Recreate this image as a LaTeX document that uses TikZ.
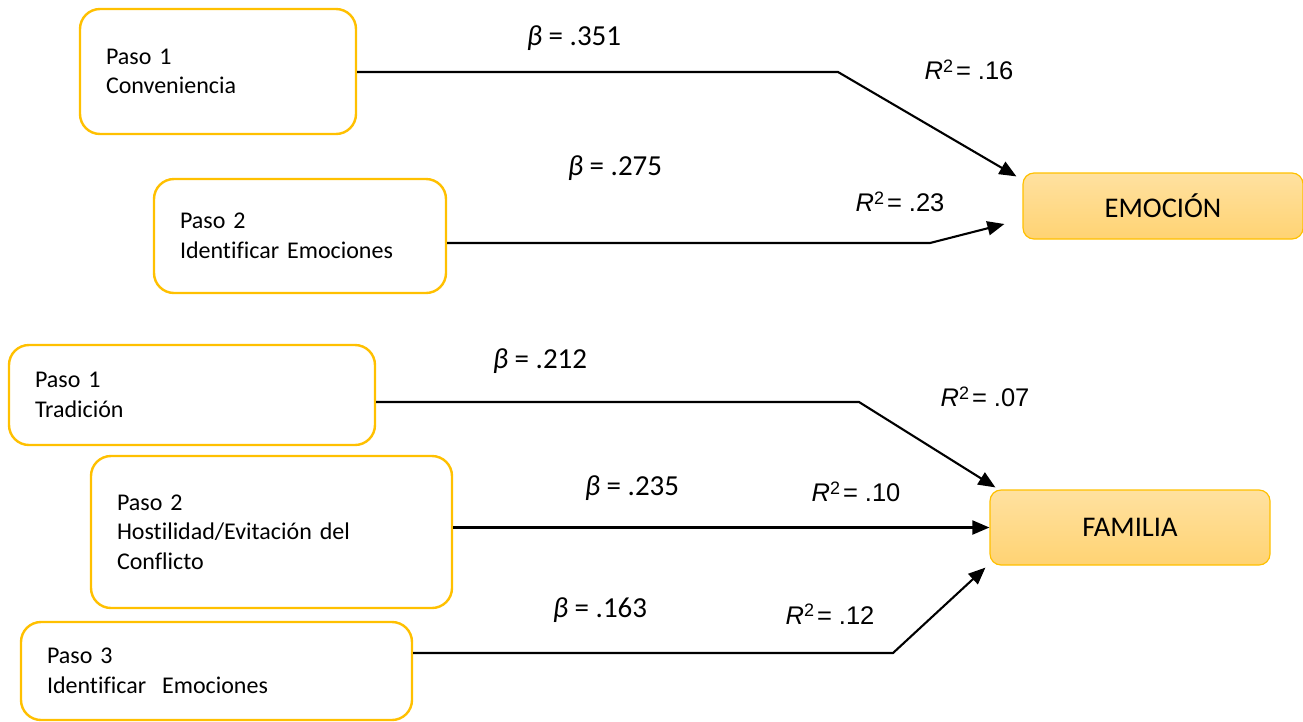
\documentclass[tikz,border=0pt]{standalone}
\usepackage{fontspec}
\newfontfamily\calfont[Ligatures=NoCommon]{Carlito}
\newfontfamily\arialfont{Liberation Sans}
\usetikzlibrary{arrows.meta,calc}
\definecolor{boxorange}{HTML}{FFC000}
\definecolor{filltop}{RGB}{255,225,160}
\definecolor{fillbottom}{RGB}{255,211,115}

\tikzset{
  stepbox/.style={draw=boxorange, line width=2.4pt, rounded corners=20pt,
    fill=white, align=left, inner xsep=26pt, inner ysep=0pt,
    font=\calfont\fontsize{24}{29.5}\selectfont},
  outcome/.style={draw=boxorange, line width=1.2pt, rounded corners=11pt,
    top color=filltop, bottom color=fillbottom,
    minimum width=280pt, align=center,
    font=\calfont\fontsize{28.5}{28.5}\selectfont},
  conn/.style={draw=black, line width=2.1pt,
    -{Triangle[length=17pt,width=14pt]}},
  betalabel/.style={font=\calfont\fontsize{29}{29}\selectfont, inner sep=0pt},
  rsqlabel/.style={font=\arialfont\fontsize{25.5}{25.5}\selectfont, inner sep=0pt},
}
\newcommand{\betaval}[1]{{\itshape β} = #1}
\newcommand{\rsqval}[1]{{\itshape R}\raisebox{0.3em}{\fontsize{18}{18}\selectfont 2}\hspace{3pt}= #1}

\begin{document}
\begin{tikzpicture}[x=1pt, y=-1pt]
\useasboundingbox (0,0) rectangle (1303,721);

% predictor steps
\node[stepbox, text width=224pt, minimum height=125pt] (b1) at (218,71.5)
  {Paso 1\\Conveniencia};
\node[stepbox, text width=240pt, minimum height=114pt] (b2) at (300,236)
  {Paso 2\\Identificar Emociones};
\node[stepbox, text width=314pt, minimum height=100pt] (b3) at (192,395)
  {Paso 1\\Tradición};
\node[stepbox, text width=309pt, minimum height=152pt] (b4) at (271.5,532)
  {Paso 2\\Hostilidad/Evitación del\\Conflicto};
\node[stepbox, text width=339pt, minimum height=98pt] (b5) at (216.5,671)
  {Paso 3\\Identificar\ \ Emociones};

% outcomes
\node[outcome, minimum height=66pt] (emo) at (1163,206) {EMOCIÓN};
\node[outcome, minimum height=75pt] (fam) at (1130,527.5) {FAMILIA};

% bends and arrow ends
\coordinate (k1) at (838,72);
\coordinate (k2) at (930,243);
\coordinate (k3) at (859,402);
\coordinate (k5) at (893,653);
\coordinate (t1) at ($(emo.north west)+(-6,4)$);
\coordinate (t2) at ($(emo.west)+(-18,18)$);
\coordinate (t3) at ($(fam.north west)+(6,-2)$);
\coordinate (t5) at ($(fam.south west)+(-4,2)$);

% paths
\draw[conn] (b1.east |- k1) -- (k1) -- (t1);
\draw[conn] (b2.east |- k2) -- (k2) -- (t2);
\draw[conn] (b3.east |- k3) -- (k3) -- (t3);
\draw[conn] (b4.east |- fam.west) -- (fam.west);
\draw[conn] (b5.east |- k5) -- (k5) -- (t5);

% coefficients
\node[betalabel] (be1) at (574,38)  {\betaval{.351}};
\node[betalabel] (be2) at (615,168) {\betaval{.275}};
\node[betalabel] (be3) at (540,361) {\betaval{.212}};
\node[betalabel] (be4) at (632,488) {\betaval{.235}};
\node[betalabel] (be5) at (600,610) {\betaval{.163}};

\node[rsqlabel] (r1) at (969,70)  {\rsqval{.16}};
\node[rsqlabel] (r2) at (900,202) {\rsqval{.23}};
\node[rsqlabel] (r3) at (985,397) {\rsqval{.07}};
\node[rsqlabel] (r4) at (856,492) {\rsqval{.10}};
\node[rsqlabel] (r5) at (830,614) {\rsqval{.12}};
\end{tikzpicture}
\end{document}
